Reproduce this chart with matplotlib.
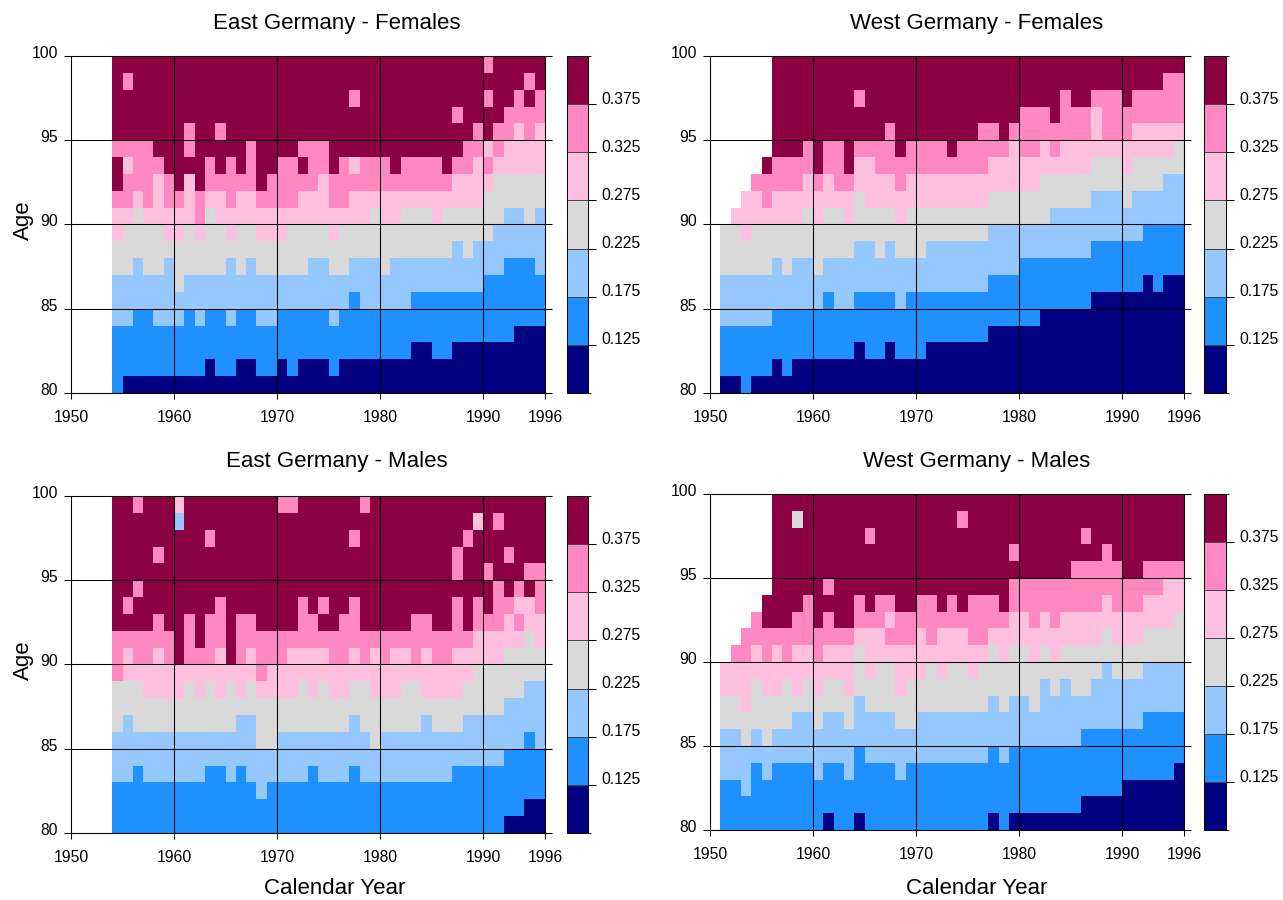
import numpy as np
import matplotlib
matplotlib.use('Agg')
import matplotlib.pyplot as plt
from matplotlib.colors import ListedColormap, BoundaryNorm
from matplotlib.transforms import ScaledTranslation

plt.rcParams['font.family'] = ['Liberation Sans', 'DejaVu Sans']

# class of each cell, one string per age from 99 down to 80, '.' = no data
# groups are the decades of calendar years
east_start = 1954
west_start = 1951

east_females = [
    "666666 6666666666 6666666666 6666666666 566666",
    "656666 6666666666 6666666666 6666666666 666656",
    "666666 6666666666 6666666566 6666666666 566565",
    "666666 6666666666 6666666666 6666666566 665555",
    "666666 6566566666 6666666666 6666666665 655454",
    "555566 6566666566 6655566666 6666666655 454444",
    "645556 6665656566 5565565455 5655556554 544444",
    "655545 6465555565 5555455555 5555555444 433333",
    "554545 5454454455 5544455444 4444444444 333333",
    "443444 4453444444 4444444443 4433343333 332232",
    "433334 4343343344 4333343333 3333333333 322222",
    "333333 3333333333 3333333333 3333333232 222222",
    "332332 3333323233 3332233222 3222222222 221112",
    "222222 3222222222 2222222222 2222222222 111111",
    "222222 2222222222 2222222122 2221111111 111111",
    "221122 2121121122 1111121111 1111111111 111111",
    "111111 1111111111 1111111111 1111111111 111000",
    "111111 1111111111 1111111111 1110011000 000000",
    "111111 1110110011 0100010000 0000000000 000000",
    "100000 0000000000 0000000000 0000000000 000000",
]

west_females = [
    ".....6666 6666666666 6666666666 6666666666 666666",
    ".....6666 6666666666 6666666666 6666666666 666655",
    ".....6666 6666566666 6666666666 6666566555 655555",
    ".....6666 6666666666 6666666666 5556555455 555555",
    ".....6666 6666666566 6666665565 5555555455 544444",
    ".....6665 6556555565 5556555554 5545444444 444443",
    "....65555 6556445555 5555555444 4444444333 433333",
    "...555554 5455444454 4444444444 4433333333 333322",
    "..4454444 4444344444 4444444333 3333333222 322222",
    ".44444443 4334333343 3333333333 3332222222 222222",
    "334333333 3333333333 3333333222 2222222222 221111",
    "333333333 3333223233 3222222222 2222222111 111111",
    "333332322 3222222222 2222222222 1111111111 111111",
    "222222222 2222222222 2222222111 1111111111 110100",
    "222222222 2122111121 1111111111 1111111000 000000",
    "222221111 1111111111 1111111111 1100000000 000000",
    "111111111 1111111111 1111111000 0000000000 000000",
    "111111111 1111011011 1000000000 0000000000 000000",
    "111110100 0000000000 0000000000 0000000000 000000",
    "001000000 0000000000 0000000000 0000000000 000000",
]

east_males = [
    "665666 4666666666 5566666656 6666666666 666666",
    "666666 2666666666 6666666666 6666666664 656666",
    "666666 6665666666 6666666566 6666666656 666666",
    "666656 6666666666 6666666666 6666666566 665666",
    "666666 6666666666 6666666666 6666666566 566655",
    "665666 6666666666 6666666666 6666666666 656565",
    "656666 6666566666 6656566566 6666666565 655445",
    "666656 6565565566 6655665566 6665566565 554544",
    "555555 6565565555 5555555555 5555555554 444434",
    "545545 6555465455 5444455454 5445455444 443333",
    "544444 4444444454 4444444444 4444444443 333333",
    "333444 4343434344 4434344334 4433444433 333322",
    "333333 3333333333 3333333333 3333333333 332222",
    "323333 3333332233 3333333233 3333233322 222222",
    "222222 2222222233 2222222223 2222222222 222212",
    "222222 2222222222 2222222222 2222222222 221111",
    "221222 2221121222 2221222122 2222222111 111111",
    "111111 1111111121 1111111111 1111111111 111111",
    "111111 1111111111 1111111111 1111111111 111100",
    "111111 1111111111 1111111111 1111111111 110000",
]

west_males = [
    ".....6666 6666666666 6666666666 6666666666 666666",
    ".....6636 6666666666 6666566666 6666666666 666666",
    ".....6666 6666656666 6666666666 6666665666 666666",
    ".....6666 6666666666 6666666665 6666666656 666666",
    ".....6666 6666666666 6666666666 6666655555 665555",
    ".....6666 6566666666 6666666665 5555555555 555544",
    "....66665 6666565566 5565655565 5555555545 554444",
    "...566655 6566555455 5555555554 4545444444 444443",
    "..5555555 5555444555 4544455444 4444444434 443333",
    ".55454544 5444344444 4444444343 3434333333 333333",
    "444444444 4444343344 4343343333 3333333323 332222",
    "444344343 4334333343 3333333333 3323233222 222222",
    "334333333 3333233333 3333333232 2322222222 222222",
    "333333322 3223222233 2222222222 2222222222 221111",
    "223232222 2222222222 2222222222 2222221111 111111",
    "222222222 2222122222 2222222121 1111111111 111111",
    "222121111 2112111121 1111111111 1111111111 111110",
    "112111111 1111111111 1111111111 1111111111 000000",
    "111111111 1111111111 1111111111 1111110000 000000",
    "111111111 1011011111 1111111010 0000000000 000000",
]

colours = ['#000080', '#1E90FF', '#94C8FF', '#D9D9D9', '#FFC0E0', '#FF88C2', '#8C0044']
bounds = [0.075, 0.125, 0.175, 0.225, 0.275, 0.325, 0.375, 0.425]
class_rate = [0.10, 0.15, 0.20, 0.25, 0.30, 0.35, 0.40]
xticks = [1950, 1960, 1970, 1980, 1990, 1996]
yticks = [80, 85, 90, 95, 100]

W, H = 1283, 900
cmap = ListedColormap(colours)
norm = BoundaryNorm(bounds, cmap.N)


def to_grid(rows):
    # age 80 first so that it sits at the bottom of the axes
    out = []
    for row in rows[::-1]:
        row = row.replace(' ', '')
        out.append([np.nan if c == '.' else class_rate[int(c)] for c in row])
    return np.ma.masked_invalid(np.array(out))


def box(l, t, r, b):
    return [l / W, 1 - b / H, (r - l) / W, (b - t) / H]


def lift_labels(axis, px):
    # tick labels sit a few pixels above their tick in the original
    shift = ScaledTranslation(0, px / 100, fig.dpi_scale_trans)
    for tick in axis.get_major_ticks():
        tick.label1.set_transform(tick.label1.get_transform() + shift)


def panel(rows, start, title, pos, barpos, title_x, title_y, age=False, xlabel=None):
    ax = fig.add_axes(box(*pos))
    grid = to_grid(rows)
    years = np.arange(start, start + grid.shape[1] + 1)
    ages = np.arange(80, 101)
    mesh = ax.pcolormesh(years, ages, grid, cmap=cmap, norm=norm, linewidth=0, rasterized=True)
    ax.set_xlim(1950, 1996)
    ax.set_ylim(80, 100)
    ax.set_xticks(xticks)
    ax.set_yticks(yticks)
    ax.grid(True, color='black', linewidth=0.75)
    ax.set_axisbelow(False)
    ax.tick_params(axis='x', length=4, width=0.75, labelsize=11.3, pad=8.5)
    ax.tick_params(axis='y', length=4.8, width=0.75, labelsize=11.3, pad=4.6, right=True)
    lift_labels(ax.yaxis, 4)
    for s in ax.spines.values():
        s.set_linewidth(0.75)
    fig.text(title_x / W, 1 - title_y / H, title, ha='center', va='center', fontsize=16)
    if age:
        fig.text(23 / W, 1 - ((pos[1] + pos[3]) / 2 - 4) / H, 'Age', rotation=90, ha='center', va='center', fontsize=16)
    if xlabel:
        fig.text(xlabel[0] / W, 1 - xlabel[1] / H, 'Calendar Year', ha='center', va='center', fontsize=16)
    cax = fig.add_axes(box(*barpos))
    cb = fig.colorbar(mesh, cax=cax, ticks=bounds[1:-1], drawedges=True)
    cb.ax.tick_params(length=5.8, width=0.75, labelright=False)
    for v in bounds[1:-1]:
        cb.ax.annotate('%.3f' % v, (1, v), xycoords=cb.ax.get_yaxis_transform(), xytext=(9.4, 3.6),
                       textcoords='offset points', ha='left', va='center', fontsize=11.3)
    cb.outline.set_linewidth(0.7)
    cb.dividers.set_linewidth(0.7)
    cb.dividers.set_color('#444444')


fig = plt.figure(figsize=(W / 100, H / 100), dpi=100)
panel(east_females, east_start, 'East Germany - Females', (71, 56, 545, 393), (567, 56, 588, 393), 337, 24, age=True)
panel(west_females, west_start, 'West Germany - Females', (710, 56, 1184, 393), (1204, 56, 1226, 393), 977, 24)
panel(east_males, east_start, 'East Germany - Males', (71, 496, 545, 833), (567, 496, 588, 833), 337, 462, age=True, xlabel=(335, 889))
panel(west_males, west_start, 'West Germany - Males', (710, 494, 1184, 830), (1204, 494, 1226, 830), 977, 462, xlabel=(977, 889))

fig.savefig('out.png', dpi=100)
